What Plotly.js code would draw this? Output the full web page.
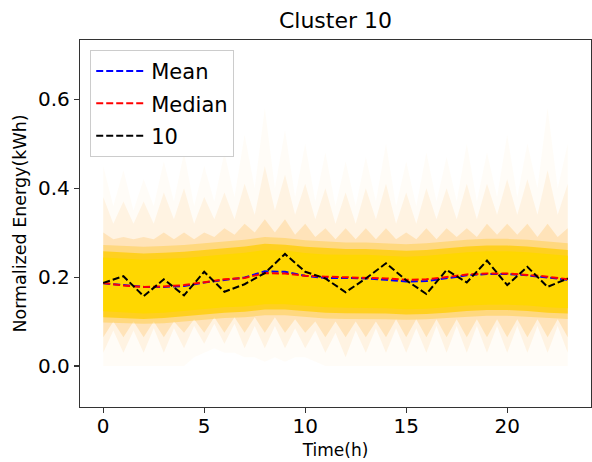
<!DOCTYPE html>
<html>
<head>
<meta charset="utf-8">
<script src="https://cdn.plot.ly/plotly-3.0.1.min.js"></script>
<style>html,body{margin:0;padding:0;background:#fff;}#chart{width:592px;height:462px;}</style>
</head>
<body>
<div id="chart"></div>
<script>
// ---- data ----
const hours = [0,1,2,3,4,5,6,7,8,9,10,11,12,13,14,15,16,17,18,19,20,21,22,23];
const midHours = [0.5,1.5,2.5,3.5,4.5,5.5,6.5,7.5,8.5,9.5,10.5,11.5,12.5,13.5,14.5,15.5,16.5,17.5,18.5,19.5,20.5,21.5,22.5];

const meanValues   = [0.186,0.182,0.178,0.178,0.180,0.188,0.193,0.199,0.213,0.212,0.203,0.198,0.198,0.197,0.194,0.190,0.191,0.198,0.204,0.207,0.207,0.204,0.199,0.194];
const medianValues = [0.187,0.181,0.178,0.179,0.182,0.189,0.195,0.198,0.209,0.208,0.203,0.201,0.200,0.199,0.197,0.194,0.195,0.200,0.206,0.208,0.208,0.205,0.201,0.195];
const profile10    = [0.187,0.202,0.157,0.195,0.159,0.212,0.167,0.184,0.209,0.252,0.212,0.197,0.166,0.197,0.231,0.193,0.162,0.216,0.188,0.237,0.182,0.223,0.178,0.197];

// envelope of the many faint member profiles (spread bands), at each hour and between hours
const faintTopHour = [0.45,0.44,0.42,0.46,0.48,0.45,0.48,0.52,0.58,0.53,0.50,0.48,0.46,0.47,0.50,0.46,0.48,0.47,0.50,0.48,0.52,0.50,0.58,0.50];
const faintTopMid  = [0.36,0.35,0.36,0.37,0.36,0.37,0.38,0.40,0.40,0.38,0.37,0.36,0.36,0.37,0.36,0.36,0.37,0.37,0.37,0.38,0.38,0.40,0.40];
const faintBotHour = [0.00,0.00,0.00,0.00,0.00,0.03,0.03,0.02,0.01,0.01,0.02,0.00,0.00,0.00,0.00,0.00,0.00,0.00,0.00,0.00,0.00,0.00,0.00,0.00];
const faintBotMid  = [0.00,0.00,0.00,0.00,0.02,0.04,0.03,0.02,0.02,0.02,0.01,0.00,0.00,0.00,0.00,0.00,0.00,0.00,0.00,0.00,0.00,0.00,0.00];

const lightTopHour = [0.38,0.37,0.37,0.39,0.40,0.38,0.39,0.41,0.45,0.43,0.41,0.40,0.39,0.40,0.41,0.39,0.40,0.40,0.41,0.41,0.42,0.42,0.44,0.41];
const lightTopMid  = [0.32,0.32,0.32,0.33,0.32,0.33,0.33,0.34,0.35,0.34,0.33,0.32,0.32,0.33,0.32,0.32,0.33,0.33,0.33,0.34,0.34,0.34,0.34];
const lightBotHour = [0.03,0.03,0.03,0.03,0.04,0.05,0.05,0.04,0.04,0.04,0.04,0.03,0.02,0.03,0.03,0.03,0.03,0.03,0.03,0.03,0.03,0.03,0.03,0.03];
const lightBotMid  = [0.080,0.080,0.085,0.085,0.090,0.095,0.095,0.090,0.090,0.085,0.080,0.075,0.080,0.085,0.085,0.085,0.090,0.090,0.090,0.090,0.090,0.090,0.090];

const midTopHour = [0.30,0.29,0.29,0.30,0.30,0.30,0.31,0.32,0.33,0.33,0.32,0.31,0.31,0.31,0.31,0.30,0.31,0.31,0.31,0.32,0.32,0.32,0.32,0.31];
const midTopMid  = [0.285,0.285,0.285,0.285,0.285,0.29,0.295,0.30,0.30,0.295,0.29,0.285,0.285,0.285,0.285,0.285,0.285,0.29,0.29,0.295,0.295,0.29,0.29];
const midBotHour = [0.065,0.065,0.065,0.065,0.075,0.075,0.075,0.075,0.075,0.075,0.075,0.065,0.065,0.065,0.065,0.065,0.065,0.065,0.065,0.065,0.065,0.065,0.065,0.065];
const midBotMid  = [0.100,0.100,0.100,0.100,0.105,0.110,0.110,0.110,0.110,0.105,0.100,0.100,0.100,0.100,0.105,0.105,0.105,0.105,0.105,0.105,0.105,0.105,0.105];

const outerCoreTop = [0.272,0.270,0.268,0.270,0.272,0.276,0.280,0.284,0.290,0.288,0.283,0.280,0.278,0.278,0.276,0.274,0.276,0.280,0.284,0.286,0.286,0.284,0.280,0.276];
const outerCoreBot = [0.098,0.096,0.095,0.096,0.100,0.105,0.108,0.110,0.114,0.114,0.110,0.107,0.106,0.106,0.105,0.104,0.105,0.108,0.111,0.113,0.113,0.111,0.108,0.106];

const coreTop = [0.258,0.255,0.253,0.255,0.257,0.261,0.265,0.269,0.275,0.273,0.268,0.265,0.263,0.263,0.261,0.259,0.261,0.265,0.269,0.271,0.271,0.269,0.265,0.261];
const coreBot = [0.110,0.108,0.106,0.108,0.112,0.117,0.120,0.122,0.127,0.127,0.123,0.120,0.119,0.119,0.118,0.116,0.117,0.120,0.124,0.126,0.126,0.124,0.120,0.118];

const innerTop = [0.244,0.241,0.239,0.241,0.243,0.247,0.251,0.255,0.261,0.260,0.254,0.251,0.250,0.250,0.248,0.246,0.248,0.252,0.256,0.258,0.258,0.256,0.252,0.248];
const innerBot = [0.123,0.120,0.118,0.120,0.124,0.129,0.132,0.134,0.139,0.139,0.135,0.132,0.131,0.131,0.130,0.128,0.129,0.132,0.136,0.138,0.138,0.136,0.132,0.130];

// ---- build ----
function merge(hourVals, midVals){
  const xs = [], ys = [];
  for (let i = 0; i < hours.length; i++){
    xs.push(hours[i]); ys.push(hourVals[i]);
    if (i < midHours.length){ xs.push(midHours[i]); ys.push(midVals[i]); }
  }
  return {x: xs, y: ys};
}

const traces = [];
function band(lower, upper, color){
  traces.push({x: lower.x, y: lower.y, mode: 'lines', line: {width: 0, color: 'rgba(0,0,0,0)'}, showlegend: false, hoverinfo: 'skip'});
  traces.push({x: upper.x, y: upper.y, mode: 'lines', line: {width: 0, color: 'rgba(0,0,0,0)'}, fill: 'tonexty', fillcolor: color, showlegend: false, hoverinfo: 'skip'});
}
band(merge(faintBotHour, faintBotMid), merge(faintTopHour, faintTopMid), 'rgba(255,175,70,0.045)');
band(merge(lightBotHour, lightBotMid), merge(lightTopHour, lightTopMid), 'rgba(255,170,50,0.10)');
band(merge(midBotHour, midBotMid), merge(midTopHour, midTopMid), 'rgba(255,175,40,0.22)');
band({x: hours, y: outerCoreBot}, {x: hours, y: outerCoreTop}, 'rgba(255,195,20,0.35)');
band({x: hours, y: coreBot}, {x: hours, y: coreTop}, 'rgba(255,205,0,0.75)');
band({x: hours, y: innerBot}, {x: hours, y: innerTop}, 'rgba(255,215,0,1)');

const dashPat = '7px,3px';
traces.push({x: hours, y: meanValues, name: 'Mean', mode: 'lines', line: {color: '#0000ff', width: 2, dash: dashPat}, legendgroup: 'a'});
traces.push({x: hours, y: medianValues, name: 'Median', mode: 'lines', line: {color: '#ff0000', width: 2, dash: dashPat}, legendgroup: 'b'});
traces.push({x: hours, y: profile10, name: '10', mode: 'lines', line: {color: '#000000', width: 2, dash: dashPat}, legendgroup: 'c'});

const font = 'DejaVu Sans, sans-serif';
const layout = {
  width: 592, height: 462,
  margin: {l: 80, r: 1, t: 40, b: 55},
  paper_bgcolor: '#fff', plot_bgcolor: '#fff',
  font: {family: font, color: '#000'},
  title: {text: 'Cluster 10', font: {size: 22, family: font, color: '#000'}, x: 0.5, xref: 'paper', xanchor: 'center', y: 0.955, yref: 'container', yanchor: 'middle'},
  xaxis: {
    range: [-1.15, 24.15], tickvals: [0,5,10,15,20], ticktext: ['0','5','10','15','20'],
    ticks: 'outside', ticklen: 5, tickwidth: 1.2, tickcolor: '#333',
    showline: true, mirror: true, linecolor: '#333', linewidth: 1.2,
    showgrid: false, zeroline: false, tickfont: {size: 20, family: font},
    ticklabelstandoff: -4,
    title: {text: 'Time(h)', font: {size: 17, family: font}, standoff: 6}
  },
  yaxis: {
    range: [-0.092, 0.733], tickvals: [0,0.2,0.4,0.6], ticktext: ['0.0','0.2','0.4','0.6'],
    ticks: 'outside', ticklen: 5, tickwidth: 1.2, tickcolor: '#333',
    showline: true, mirror: true, linecolor: '#333', linewidth: 1.2,
    showgrid: false, zeroline: false, tickfont: {size: 20, family: font},
    title: {text: 'Normalized Energy(kWh)', font: {size: 17.5, family: font}, standoff: 6}
  },
  legend: {
    x: 0.02, y: 0.973, xanchor: 'left', yanchor: 'top',
    bgcolor: 'rgba(255,255,255,0.85)', bordercolor: '#cccccc', borderwidth: 1,
    font: {size: 21, family: font}, traceorder: 'grouped', tracegroupgap: 2, itemwidth: 50
  },
  showlegend: true
};
Plotly.newPlot('chart', traces, layout, {staticPlot: true, displayModeBar: false});
</script>
</body>
</html>
